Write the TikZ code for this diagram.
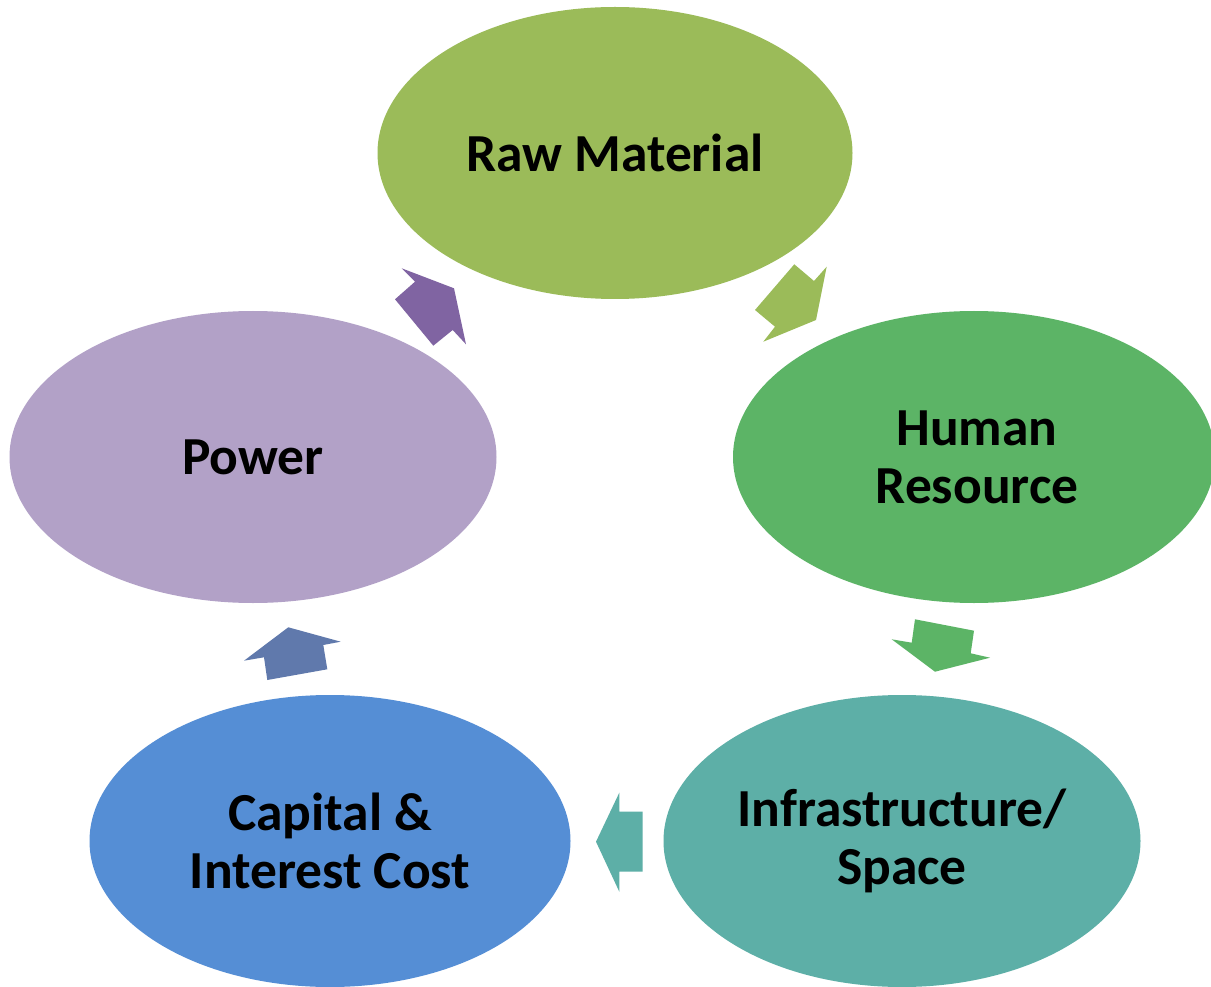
\documentclass[tikz,border=0pt]{standalone}
\usepackage{fontspec}
\setmainfont{Carlito}
\usetikzlibrary{shapes.geometric}
\definecolor{cRaw}{HTML}{9BBB59}
\definecolor{cHum}{HTML}{5CB466}
\definecolor{cInf}{HTML}{5DAFA7}
\definecolor{cCap}{HTML}{558ED5}
\definecolor{cPow}{HTML}{B2A1C7}
\definecolor{aPow}{HTML}{8064A2}
\definecolor{aCap}{HTML}{6079AC}
\tikzset{
  blob/.style={ellipse, inner sep=0pt, minimum height=292pt, align=center,
    font=\fontsize{53.5}{58}\selectfont\bfseries, text=black},
  blockarrow/.style={draw=none}
}
\begin{document}
\begin{tikzpicture}[x=1pt,y=-1pt]
\useasboundingbox (0,0) rectangle (1211,987);
\fill[white] (0,0) rectangle (1211,987);
% ellipses
\node[blob, fill=cRaw, minimum width=475pt] (raw) at (615,153) {Raw Material};
\node[blob, fill=cHum, minimum width=482pt] (hum) at (974,457) {};
\node[blob, fill=none, minimum width=10pt, minimum height=10pt] (humt) at (977,457) {Human\\Resource};
\node[blob, fill=cInf, minimum width=477pt] (inf) at (902,841) {Infrastructure/\\Space};
\node[blob, fill=cCap, minimum width=481pt] (cap) at (330,841) {Capital \&\\Interest Cost};
\node[blob, fill=cPow, minimum width=487pt] (pow) at (253,457) {Power};
% block arrows
\fill[blockarrow, aPow] (401.7,268.3) -- (454,288.3) -- (466,344.3) -- (452.7,330) -- (433.3,345.7) -- (395,299.3) -- (415,281.7) -- cycle;
\fill[blockarrow, cRaw] (826.7,266.7) -- (816,320) -- (763.3,341.7) -- (775,326.7) -- (755,310) -- (794.3,264.3) -- (814,281) -- cycle;
\fill[blockarrow, cHum] (915,619.3) -- (974,630.7) -- (970.7,653.3) -- (990,657.7) -- (935,671.7) -- (891.7,639.3) -- (911.7,642.7) -- cycle;
\fill[blockarrow, cInf] (619.3,792.7) -- (619.3,811.7) -- (642.7,811.7) -- (642.7,871.7) -- (619.3,871.7) -- (619.3,891.7) -- (596,841.7) -- cycle;
\fill[blockarrow, aCap] (288.3,627.3) -- (340.7,641.7) -- (323.3,645) -- (327.3,669.3) -- (267.3,680) -- (264,657.3) -- (244,660.7) -- cycle;
\end{tikzpicture}
\end{document}
